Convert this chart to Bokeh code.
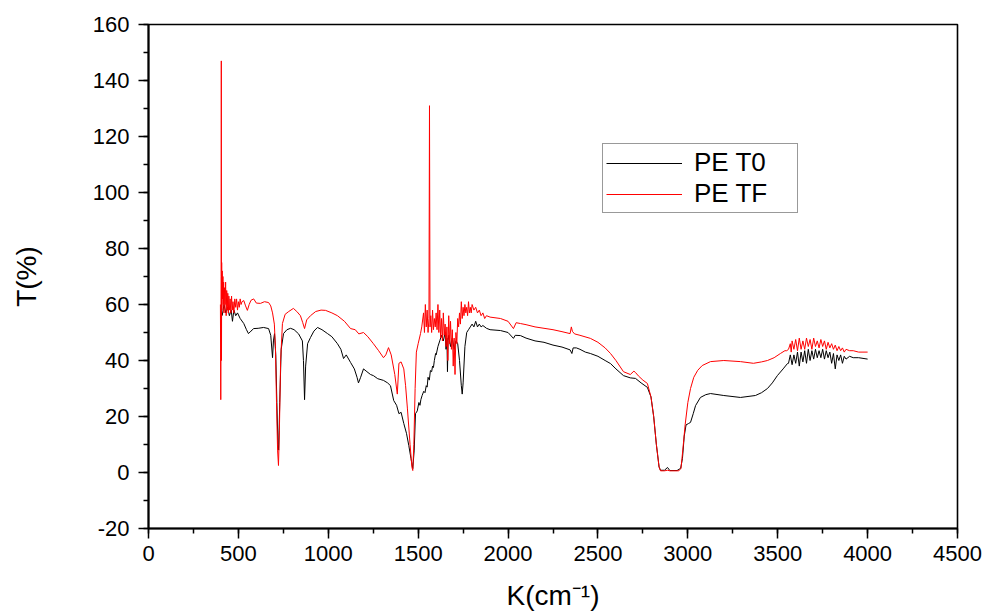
from bokeh.plotting import figure
from bokeh.models import Range1d, SingleIntervalTicker, Legend, LegendItem, PrintfTickFormatter
from bokeh.embed import file_html
from bokeh.resources import INLINE

# ---- data ----
t0_wavenumber = [410, 420, 430, 440, 450, 460, 467, 475, 485, 495, 510, 530, 545, 556, 570, 585, 610, 640,
                 668, 680, 690, 695, 701, 708, 714, 720, 724, 730, 738, 751, 770, 790, 810, 835, 856, 862,
                 868, 874, 885, 901, 920, 940, 965, 996, 1020, 1051, 1070, 1085, 1100, 1124, 1145, 1160,
                 1168, 1180, 1196, 1215, 1235, 1251, 1275, 1307, 1330, 1346, 1364, 1380, 1393, 1405, 1420,
                 1435, 1448, 1460, 1470, 1478, 1485, 1495, 1504, 1510, 1515, 1522, 1531, 1538, 1545, 1550,
                 1555, 1562, 1568, 1575, 1580, 1585, 1590, 1597,
                 1600, 1610, 1620, 1630, 1640, 1650, 1655, 1660, 1663, 1666, 1670, 1680, 1690, 1700, 1710,
                 1720, 1730, 1740, 1745, 1750, 1760, 1770, 1780, 1790, 1800, 1810, 1820, 1830, 1840, 1850,
                 1860, 1880, 1900, 1958, 2000, 2030, 2040, 2069, 2100, 2150, 2200, 2250, 2300, 2345, 2355,
                 2362, 2380, 2400, 2430, 2458, 2500, 2540, 2570, 2600, 2642, 2680, 2709, 2740, 2775, 2795,
                 2810, 2825, 2840, 2848, 2870, 2887, 2900, 2940, 2960, 2970, 2980, 2990, 3004, 3015, 3030,
                 3043, 3070, 3100, 3126, 3200, 3293, 3376, 3410, 3443, 3470, 3498, 3530, 3554,
                 3560, 3570, 3580, 3590, 3600, 3610, 3620, 3630, 3640, 3650, 3660, 3670, 3680, 3690, 3700,
                 3710, 3720, 3730, 3740, 3750, 3760, 3770, 3780, 3790, 3800, 3810, 3820, 3830, 3840, 3850,
                 3860, 3870, 3880, 3900, 3920, 3950, 4000]
t0_transmittance = [56, 60, 57, 59, 56, 58, 54, 58, 56, 57, 55, 53.2, 51, 49.6, 50.5, 51.4, 51.5, 51.8,
                    51.4, 49, 41, 47, 49.6, 42, 25, 10, 8, 25, 44, 49.6, 51, 51.5, 51, 49.5, 47, 40,
                    26, 38, 46, 48.2, 50.5, 51.8, 51, 49.6, 48.5, 46, 44, 40.7, 42, 39.3, 37, 34,
                    32, 34, 37, 36, 35, 34.6, 33.5, 32.9, 32, 31, 25.7, 24, 21, 21.5, 17.5,
                    14, 9.6, 5, 1.4, 8, 21, 22, 25, 24, 26, 27.5, 29, 28.5, 31, 30.5,
                    34, 33, 36.4, 36, 38, 37.5, 40, 42.5,
                    42, 45, 47, 49, 47, 50, 44, 48, 36, 47, 49, 45, 48, 44, 47,
                    46, 40, 31, 28, 32, 45, 50, 51, 52, 53, 52, 54, 52, 53, 52,
                    52.5, 51.5, 51, 50.7, 50, 47.9, 49, 48.9, 48, 47, 46.5, 45.5, 44.8, 43.8, 42.5,
                    44.5, 44.5, 44, 43, 42.5, 41.5, 40, 38.9, 37, 34.6, 33.8, 33.6, 32, 30.4, 27,
                    20, 10, 2, 0.8, 0.8, 1.8, 0.7, 0.7, 1.5, 5, 13, 17, 17.5, 17.9, 21,
                    23.9, 26.8, 27.8, 28.2, 27.5, 26.8, 27.5, 28.5, 30, 32, 34.6, 37, 38.9,
                    39, 42, 38.5, 42, 39, 43, 38, 43, 39.5, 43.5, 39, 44, 40, 43.5, 40.5,
                    44, 41, 43.5, 41, 44, 40.5, 43.5, 41, 43, 39, 42.5, 37, 42, 40, 42,
                    39, 41.5, 40.5, 41.5, 41, 41, 40.5]

tf_wavenumber = [400, 402, 404, 405, 406, 407, 408, 410, 412, 414, 416, 418, 420, 423, 426, 429, 432, 435,
                 438, 441, 444, 447, 450, 454, 458, 462, 466, 470, 475, 480, 485, 490, 495, 500, 505, 510,
                 515, 520, 530, 540, 550, 560, 570, 585, 600, 623, 645, 668, 680, 690, 700, 706, 712, 718,
                 723, 728, 735, 745, 760, 780, 806, 825, 845, 858, 868, 880, 901, 930, 960, 985, 1020,
                 1051, 1090, 1124, 1150, 1170, 1196, 1220, 1251, 1280, 1307, 1320, 1335, 1350, 1370, 1384,
                 1393, 1405, 1420, 1430, 1440, 1455, 1465, 1470, 1476, 1483, 1490, 1500, 1513, 1520,
                 1530, 1535, 1540, 1545, 1550, 1555, 1560, 1563, 1566, 1570, 1575, 1580, 1585, 1590, 1595,
                 1600, 1605, 1610, 1615, 1620, 1625, 1630, 1635, 1640, 1645, 1650, 1655, 1660, 1665, 1670,
                 1675, 1680, 1685, 1690, 1695, 1700, 1705, 1710, 1715, 1720, 1725, 1730, 1735, 1740, 1745,
                 1750, 1755, 1760, 1765, 1770, 1775, 1780, 1785, 1790, 1795, 1800, 1810, 1820, 1830, 1840,
                 1850, 1860, 1870, 1880, 1900, 1958, 2000, 2030, 2045, 2069, 2100, 2150, 2200, 2250, 2300,
                 2345, 2352, 2358, 2370, 2400, 2458, 2500, 2540, 2570, 2600, 2642, 2680, 2700, 2709, 2725,
                 2750, 2775, 2795, 2810, 2825, 2840, 2848, 2870, 2887, 2900, 2950, 2962, 2972, 2985, 3000,
                 3015, 3033, 3055, 3080, 3126, 3200, 3293, 3365, 3410, 3443, 3480, 3515, 3540,
                 3550, 3560, 3570, 3575, 3580, 3590, 3600, 3610, 3620, 3630, 3640, 3650, 3660, 3670, 3680,
                 3690, 3700, 3710, 3720, 3730, 3740, 3750, 3760, 3770, 3780, 3790, 3800, 3810, 3820, 3830,
                 3840, 3850, 3860, 3870, 3880, 3900, 3920, 3950, 4000]
tf_transmittance = [60, 26, 70, 147, 40, 75, 58, 72, 62, 70, 60, 68, 57, 66, 60, 68, 56, 65,
                    58, 64, 57, 63, 58, 62, 57, 63, 58, 61, 57, 62, 59, 62, 58, 61, 59, 62,
                    60, 61, 61.4, 59.5, 57.9, 60, 61.5, 62, 60.5, 60.4, 61, 60.7, 59.5, 57, 53, 44.6, 25, 8,
                    2.5, 15, 40, 53.2, 56.5, 57.5, 58.6, 57.5, 56, 53.5, 51.4, 54.5, 56, 57.5, 58, 57.9, 57,
                    56, 54, 51.4, 51, 49.5, 50, 48.5, 46, 43.5, 41, 42, 44.6, 42, 35, 28,
                    39, 39.5, 37, 31, 23, 10, 2, 0.7, 10, 30, 43, 46, 49.6, 52,
                    57, 50, 60, 52, 58, 50, 55, 131, 52, 56, 50, 58, 51, 55, 52,
                    57, 51, 60, 50, 58, 48, 55, 47, 57, 49, 53, 45, 52, 40, 56,
                    46, 54, 44, 51, 38, 48, 35, 50, 46, 55, 52, 57, 53, 61, 55,
                    59, 56, 60, 57, 59, 56, 61, 57, 59, 57, 60, 58, 59, 57, 58,
                    56, 57, 55, 56, 55.5, 55, 54, 51.4, 53.5, 53.2, 52.8, 52, 51.5, 51, 50.3,
                    49.6, 52, 50.4, 49.5, 49, 47.9, 46.5, 44.5, 42.5, 40, 36, 35, 36.2, 35.7, 34.5,
                    33, 31.8, 27, 20, 10, 2, 0.6, 0.6, 0.8, 0.6, 0.6, 1.5, 8, 17, 25,
                    30, 34, 36.5, 38.2, 39.6, 40, 39.6, 39, 39.5, 40, 41, 42.5, 43.5,
                    43.5, 44, 46, 43, 47, 44, 47.5, 43.5, 48, 44, 47, 44, 48, 45, 47.5,
                    44, 48, 45, 47, 44.5, 47.5, 45, 47, 44, 46.5, 44.5, 46, 44, 45.5, 43.5,
                    45, 43.5, 44.5, 43, 44, 43.5, 43.5, 43, 43]

series_names = ["PE T0", "PE TF"]
series_colors = ["#000000", "#ff0000"]

FONT = "Liberation Sans"

p = figure(width=991, height=616, output_backend="svg", toolbar_location=None,
           x_range=Range1d(0, 4500), y_range=Range1d(-20, 160),
           min_border_left=148, min_border_right=34, min_border_top=24, min_border_bottom=88)
p.background_fill_color = "white"
p.border_fill_color = "white"
p.grid.visible = False
p.outline_line_color = "black"
p.outline_line_width = 1.6

r0 = p.line(t0_wavenumber, t0_transmittance, line_color=series_colors[0], line_width=1)
r1 = p.line(tf_wavenumber, tf_transmittance, line_color=series_colors[1], line_width=1)

p.xaxis.ticker = SingleIntervalTicker(interval=500, num_minor_ticks=2)
p.yaxis.ticker = SingleIntervalTicker(interval=20, num_minor_ticks=2)
p.xaxis.formatter = PrintfTickFormatter(format="%d")
p.yaxis.formatter = PrintfTickFormatter(format="%d")

for ax in (p.xaxis[0], p.yaxis[0]):
    ax.axis_line_width = 2
    ax.axis_line_color = "black"
    ax.major_tick_line_color = "black"
    ax.minor_tick_line_color = "black"
    ax.major_tick_line_width = 1.5
    ax.minor_tick_line_width = 1.5
    ax.major_tick_out = 10
    ax.major_tick_in = 0
    ax.minor_tick_out = 5
    ax.minor_tick_in = 0
    ax.major_label_text_font = FONT
    ax.major_label_text_color = "black"
    ax.axis_label_text_font = FONT
    ax.axis_label_text_font_size = "28px"
    ax.axis_label_text_font_style = "normal"
    ax.axis_label_text_color = "black"

p.xaxis.major_label_text_font_size = "22px"
p.yaxis.major_label_text_font_size = "22px"
p.xaxis.axis_label = "K(cm\u207b\u00b9)"
p.yaxis.axis_label = "T(%)"
p.xaxis.major_label_standoff = 7
p.yaxis.major_label_standoff = 9
p.xaxis.axis_label_standoff = 16
p.yaxis.axis_label_standoff = 48

legend = Legend(items=[LegendItem(label=series_names[0], renderers=[r0]),
                       LegendItem(label=series_names[1], renderers=[r1])],
                location=(454, 315))
legend.label_text_font = FONT
legend.label_text_font_size = "26px"
legend.label_text_color = "black"
legend.glyph_width = 76
legend.glyph_height = 24
legend.label_height = 24
legend.label_width = 100
legend.label_standoff = 12
legend.padding = 3
legend.spacing = 0
legend.margin = 0
legend.border_line_color = "#333333"
legend.border_line_width = 1.2
legend.background_fill_alpha = 1
p.add_layout(legend)

open("out.html", "w").write(file_html(p, INLINE))
